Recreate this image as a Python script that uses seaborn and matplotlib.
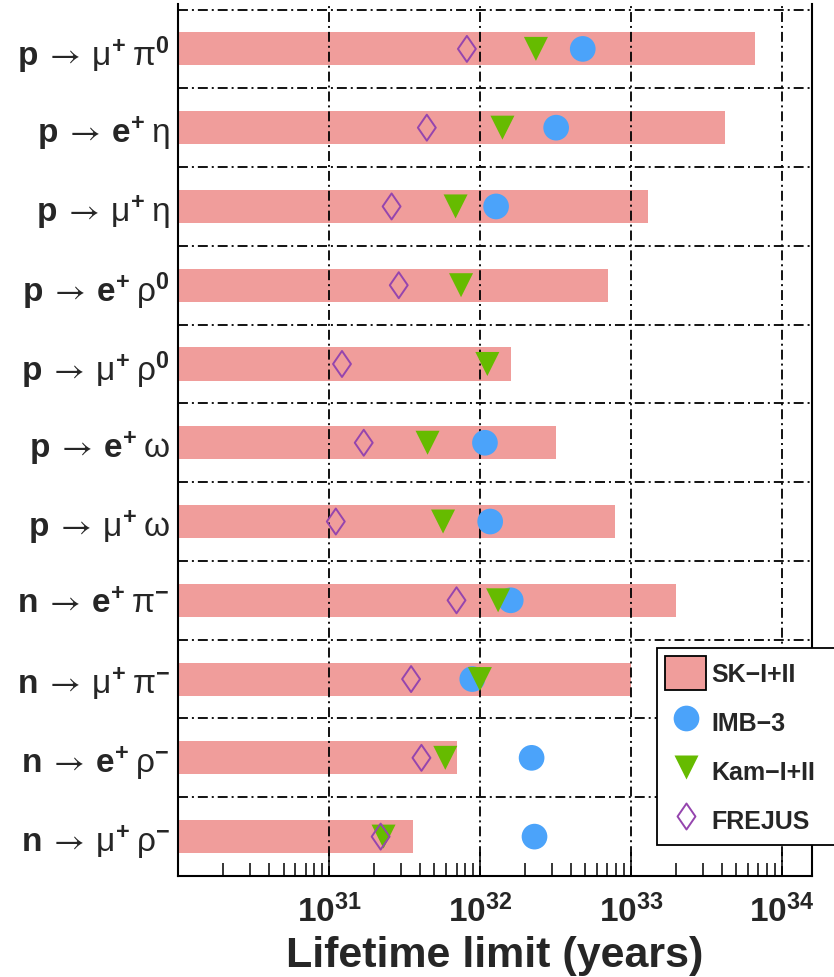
import numpy as np
import pandas as pd
import matplotlib
matplotlib.use("Agg")
import matplotlib.pyplot as plt
import seaborn as sns
from matplotlib.lines import Line2D
from matplotlib.patches import Patch
from matplotlib.path import Path
from matplotlib.ticker import FixedLocator, LogLocator, FuncFormatter, NullFormatter

# Decay modes (top to bottom)
modes = [
    r"$\mathbf{p}\:\mathsf{\rightarrow}\:\mathrm{\mu}^{\mathbf{+}}\:\mathrm{\pi}^{\mathbf{0}}$",
    r"$\mathbf{p}\:\mathsf{\rightarrow}\:\mathbf{e}^{\mathbf{+}}\:\mathrm{\eta}$",
    r"$\mathbf{p}\:\mathsf{\rightarrow}\:\mathrm{\mu}^{\mathbf{+}}\:\mathrm{\eta}$",
    r"$\mathbf{p}\:\mathsf{\rightarrow}\:\mathbf{e}^{\mathbf{+}}\:\mathrm{\rho}^{\mathbf{0}}$",
    r"$\mathbf{p}\:\mathsf{\rightarrow}\:\mathrm{\mu}^{\mathbf{+}}\:\mathrm{\rho}^{\mathbf{0}}$",
    r"$\mathbf{p}\:\mathsf{\rightarrow}\:\mathbf{e}^{\mathbf{+}}\:\mathrm{\omega}$",
    r"$\mathbf{p}\:\mathsf{\rightarrow}\:\mathrm{\mu}^{\mathbf{+}}\:\mathrm{\omega}$",
    r"$\mathbf{n}\:\mathsf{\rightarrow}\:\mathbf{e}^{\mathbf{+}}\:\mathrm{\pi}^{\mathbf{-}}$",
    r"$\mathbf{n}\:\mathsf{\rightarrow}\:\mathrm{\mu}^{\mathbf{+}}\:\mathrm{\pi}^{\mathbf{-}}$",
    r"$\mathbf{n}\:\mathsf{\rightarrow}\:\mathbf{e}^{\mathbf{+}}\:\mathrm{\rho}^{\mathbf{-}}$",
    r"$\mathbf{n}\:\mathsf{\rightarrow}\:\mathrm{\mu}^{\mathbf{+}}\:\mathrm{\rho}^{\mathbf{-}}$",
]

# Lifetime limits (years), 90% C.L.
sk_limit = [6.6e33, 4.2e33, 1.3e33, 7.1e32, 1.6e32, 3.2e32, 7.8e32, 2.0e33, 1.0e33, 7.0e31, 3.6e31]
imb3_limit = [4.8e32, 3.2e32, 1.28e32, np.nan, np.nan, 1.08e32, 1.17e32, 1.6e32, 8.9e31, 2.2e32, 2.3e32]
kam_limit = [2.35e32, 1.41e32, 6.9e31, 7.5e31, 1.12e32, 4.5e31, 5.7e31, 1.32e32, 1.0e32, 5.9e31, 2.3e31]
frejus_limit = [8.2e31, 4.45e31, 2.6e31, 2.9e31, 1.22e31, 1.7e31, 1.11e31, 7.0e31, 3.5e31, 4.1e31, 2.2e31]

decade_ticks = [1e31, 1e32, 1e33, 1e34]

bar_color = "#F09D9B"
imb_color = "#4BA3FA"
kam_color = "#66BB00"
frejus_color = "#9545AE"

df = pd.DataFrame({
    "mode": modes,
    "sk": sk_limit,
    "imb": imb3_limit,
    "kam": kam_limit,
    "frejus": frejus_limit,
})

sns.set_style("white")
plt.rcParams["font.family"] = ["Liberation Sans", "DejaVu Sans"]
plt.rcParams["mathtext.fontset"] = "custom"
plt.rcParams["mathtext.rm"] = "Liberation Sans"
plt.rcParams["mathtext.bf"] = "Liberation Sans:bold"
plt.rcParams["mathtext.it"] = "Liberation Sans:italic"
plt.rcParams["mathtext.sf"] = "STIXGeneral"

fig = plt.figure(figsize=(8.34, 9.78), dpi=100)
ax = fig.add_axes([178 / 834, 1 - 877 / 978, (812 - 178) / 834, (877 - 5) / 978])
ax.set_xscale("log")

sns.barplot(data=df, x="sk", y="mode", orient="h", color=bar_color,
            saturation=1, width=0.42, linewidth=0, ax=ax, zorder=1)

# Reference lines: dash-dot grid at decades and between decay modes
grid_style = dict(color="black", lw=1.3, ls=(0, (5.5, 2.2, 1.1, 2.2)), zorder=2)
for xv in decade_ticks:
    ax.axvline(xv, **grid_style)
for i in range(len(modes) + 1):
    ax.axhline(i - 0.5, **grid_style)

diamond = Path([(0, 1), (0.69, 0), (0, -1), (-0.69, 0), (0, 1)],
               [Path.MOVETO, Path.LINETO, Path.LINETO, Path.LINETO, Path.CLOSEPOLY])

sns.scatterplot(data=df, x="imb", y="mode", marker="o", s=342, color=imb_color,
                edgecolor="none", linewidth=0, ax=ax, zorder=4, legend=False)
sns.scatterplot(data=df, x="kam", y="mode", marker="v", s=299, color=kam_color,
                edgecolor="none", linewidth=0, ax=ax, zorder=5, legend=False)
sns.scatterplot(data=df, x="frejus", y="mode", marker=diamond, s=350, color=frejus_color,
                facecolor="none", edgecolor=frejus_color, linewidth=1.4, ax=ax,
                zorder=6, legend=False)

ax.set_xlim(1e30, 10 ** 34.2)
ax.set_ylim(len(modes) - 0.5, -0.57)

ax.xaxis.set_major_locator(FixedLocator(decade_ticks))
ax.xaxis.set_minor_locator(LogLocator(base=10, subs=np.arange(2, 10), numticks=20))
ax.xaxis.set_minor_formatter(NullFormatter())
ax.xaxis.set_major_formatter(
    FuncFormatter(lambda v, p: r"$\mathbf{10^{%d}}$" % round(np.log10(v))))
ax.tick_params(axis="x", which="major", direction="in", length=17, width=1.1,
               labelsize=24, pad=13, bottom=True, top=False, color="black")
ax.tick_params(axis="x", which="minor", direction="in", length=9.4, width=1.1,
               bottom=True, top=False, color="black")
ax.tick_params(axis="y", length=0, labelsize=24, pad=6)

ax.set_xlabel("Lifetime limit (years)", fontsize=31, fontweight="bold", labelpad=5)
ax.set_ylabel("")

for side in ["left", "right", "bottom"]:
    ax.spines[side].set_visible(True)
    ax.spines[side].set_color("black")
    ax.spines[side].set_linewidth(1.5)
ax.spines["top"].set_visible(False)

handles = [
    Patch(facecolor=bar_color, edgecolor="black", linewidth=1.3, label="SK\u2212I+II"),
    Line2D([], [], ls="none", marker="o", ms=18.5, mfc=imb_color, mec="none", label="IMB\u22123"),
    Line2D([], [], ls="none", marker="v", ms=17.3, mfc=kam_color, mec="none", label="Kam\u2212I+II"),
    Line2D([], [], ls="none", marker=diamond, ms=18.7, mfc="none", mec=frejus_color,
           mew=1.4, label="FREJUS"),
]
leg = fig.legend(handles=handles, loc="upper left",
                 bbox_to_anchor=(657 / 834, 1 - 843 / 978, 0.25, (843 - 649) / 978),
                 mode="expand", borderaxespad=0, frameon=True, fancybox=False,
                 framealpha=1, edgecolor="black", borderpad=0.32, labelspacing=0.6,
                 handlelength=1.64, handleheight=1.715, handletextpad=0.2,
                 prop={"weight": "bold", "size": 18})
leg.get_frame().set_linewidth(1.3)

fig.savefig("out.png", dpi=100)
